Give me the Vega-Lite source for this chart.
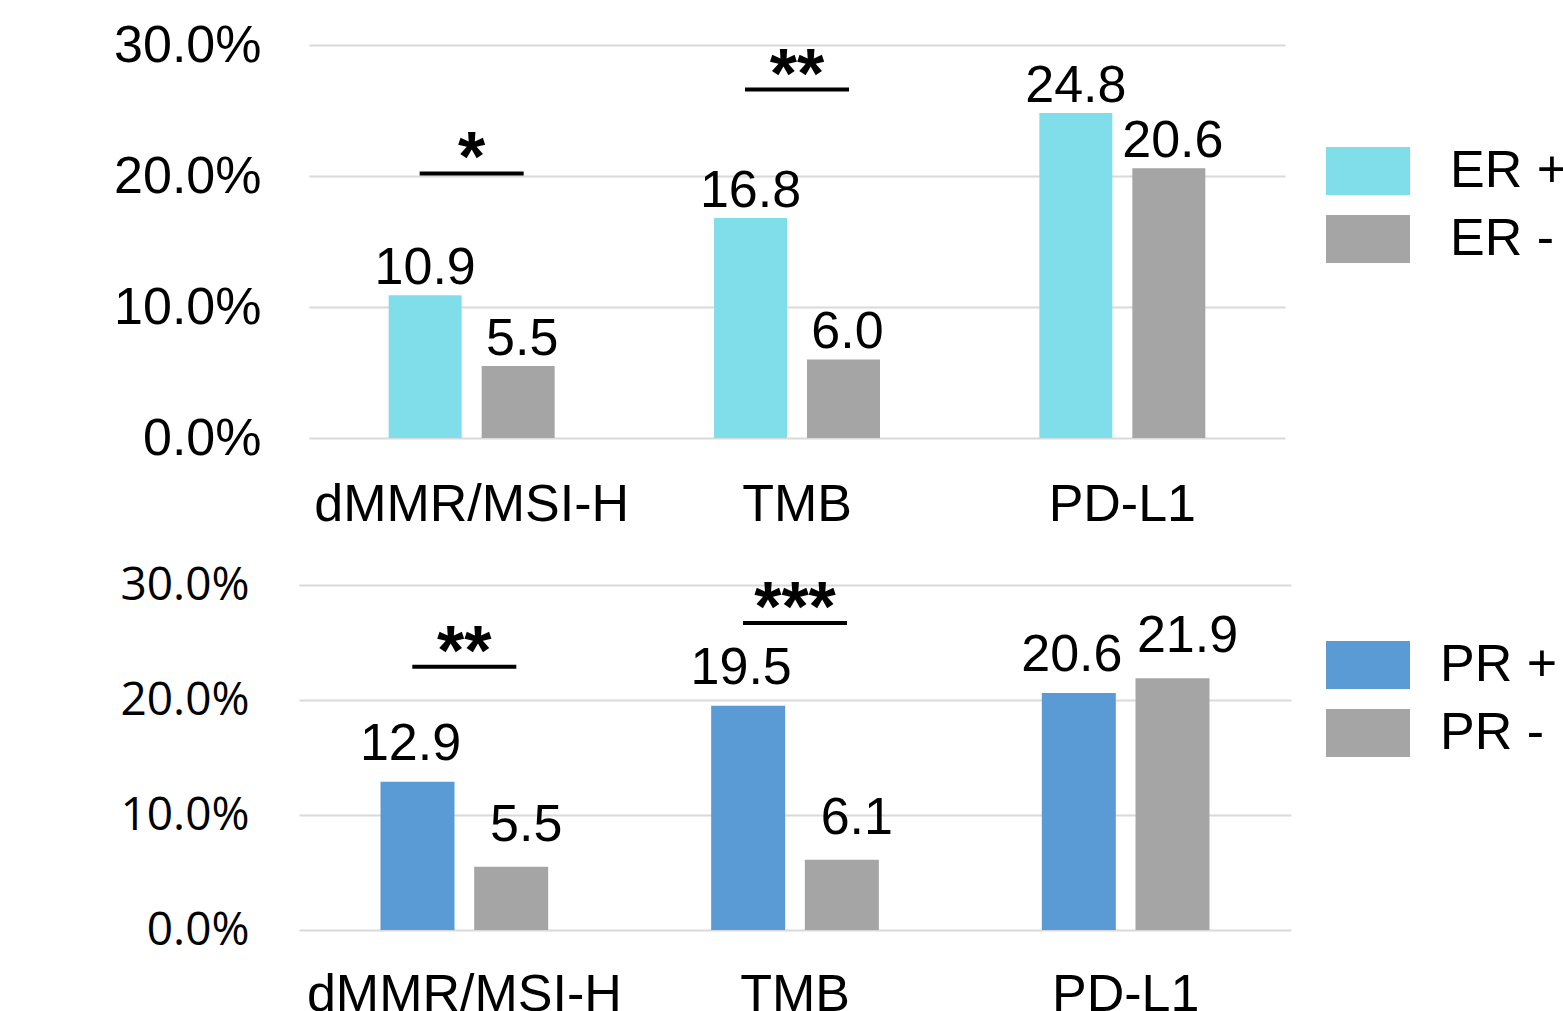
{
  "$schema": "https://vega.github.io/schema/vega-lite/v6.json",
  "background": "white",
  "padding": {"left": 113, "top": 19, "right": 0, "bottom": 0},
  "config": {
    "view": {"stroke": null},
    "font": "Liberation Sans",
    "axis": {"domain": false, "ticks": false, "tickSize": 0, "title": null, "labelColor": "black", "gridColor": "#D9D9D9", "gridWidth": 2, "labelLimit": 0},
    "text": {"font": "Liberation Sans", "color": "black"}
  },
  "datasets": {
    "er": [
      {"marker": "dMMR/MSI-H", "group": "ER +", "value": 10.9},
      {"marker": "dMMR/MSI-H", "group": "ER -", "value": 5.5},
      {"marker": "TMB", "group": "ER +", "value": 16.8},
      {"marker": "TMB", "group": "ER -", "value": 6.0},
      {"marker": "PD-L1", "group": "ER +", "value": 24.8},
      {"marker": "PD-L1", "group": "ER -", "value": 20.6}
    ],
    "er_sig": [
      {"marker": "dMMR/MSI-H", "y": 20.2, "stars": "*"},
      {"marker": "TMB", "y": 26.6, "stars": "**"}
    ],
    "pr": [
      {"marker": "dMMR/MSI-H", "group": "PR +", "value": 12.9},
      {"marker": "dMMR/MSI-H", "group": "PR -", "value": 5.5},
      {"marker": "TMB", "group": "PR +", "value": 19.5},
      {"marker": "TMB", "group": "PR -", "value": 6.1},
      {"marker": "PD-L1", "group": "PR +", "value": 20.6},
      {"marker": "PD-L1", "group": "PR -", "value": 21.9}
    ],
    "pr_sig": [
      {"marker": "dMMR/MSI-H", "y": 22.9, "stars": "**"},
      {"marker": "TMB", "y": 26.7, "stars": "***"}
    ]
  },
  "bounds": "flush",
  "spacing": 147,
  "resolve": {"scale": {"color": "independent", "xOffset": "independent", "x": "independent", "y": "independent"}},
  "vconcat": [
    {
      "width": 986,
      "height": 393,
      "layer": [
        {
          "data": {"name": "er"},
          "mark": {"type": "bar"},
          "encoding": {
            "x": {"field": "marker", "type": "nominal", "sort": ["dMMR/MSI-H", "TMB", "PD-L1"],
              "scale": {"type": "band", "range": [10, 986], "paddingInner": 0, "paddingOuter": 0},
              "axis": {"labelAngle": 0, "labelFontSize": 52, "labelPadding": 82, "labelBaseline": "alphabetic", "grid": false}},
            "xOffset": {"field": "group", "type": "nominal", "sort": ["ER +", "ER -"], "scale": {"type": "band", "domain": ["ER +", "ER -"], "paddingInner": 0.215, "paddingOuter": 0.857}},
            "y": {"field": "value", "type": "quantitative", "scale": {"domain": [0, 30]},
              "axis": {"values": [0, 10, 20, 30], "labelExpr": "format(datum.value / 100, '.1%')", "labelFontSize": 52, "labelPadding": 38}},
            "color": {"field": "group", "type": "nominal", "sort": ["ER +", "ER -"],
              "scale": {"domain": ["ER +", "ER -"], "range": ["#80DEEA", "#A5A5A5"]},
              "legend": {"title": null, "orient": "none", "legendX": 1027, "legendY": 84,
                "symbolType": "M-1,-0.571H1V0.571H-1Z", "symbolSize": 7056, "symbolStrokeWidth": 0, "symbolOpacity": 1,
                "labelFontSize": 52, "labelOffset": 40, "rowPadding": -16, "labelColor": "black", "labelFont": "Liberation Sans"}}
          }
        },
        {
          "data": {"name": "er"},
          "transform": [{"filter": "datum.group === 'ER +'"}],
          "mark": {"type": "text", "fontSize": 52, "baseline": "alphabetic", "dy": -11, "dx": 0},
          "encoding": {
            "x": {"field": "marker", "type": "nominal", "sort": ["dMMR/MSI-H", "TMB", "PD-L1"]},
            "xOffset": {"field": "group", "type": "nominal"},
            "y": {"field": "value", "type": "quantitative"},
            "text": {"field": "value", "type": "quantitative", "format": ".1f"}
          }
        },
        {
          "data": {"name": "er"},
          "transform": [{"filter": "datum.group === 'ER -'"}],
          "mark": {"type": "text", "fontSize": 52, "baseline": "alphabetic", "dy": -11, "dx": 4},
          "encoding": {
            "x": {"field": "marker", "type": "nominal", "sort": ["dMMR/MSI-H", "TMB", "PD-L1"]},
            "xOffset": {"field": "group", "type": "nominal"},
            "y": {"field": "value", "type": "quantitative"},
            "text": {"field": "value", "type": "quantitative", "format": ".1f"}
          }
        },
        {
          "data": {"name": "er_sig"},
          "mark": {"type": "tick", "orient": "horizontal", "size": 104, "thickness": 4, "color": "black", "opacity": 1},
          "encoding": {
            "x": {"field": "marker", "type": "nominal", "sort": ["dMMR/MSI-H", "TMB", "PD-L1"]},
            "y": {"field": "y", "type": "quantitative"}
          }
        },
        {
          "data": {"name": "er_sig"},
          "mark": {"type": "text", "fontSize": 70, "fontWeight": "bold", "baseline": "alphabetic", "dy": 8},
          "encoding": {
            "x": {"field": "marker", "type": "nominal", "sort": ["dMMR/MSI-H", "TMB", "PD-L1"]},
            "y": {"field": "y", "type": "quantitative"},
            "text": {"field": "stars", "type": "nominal"}
          }
        }
      ]
    },
    {
      "width": 992,
      "height": 345,
      "layer": [
        {
          "data": {"name": "pr"},
          "mark": {"type": "bar"},
          "encoding": {
            "x": {"field": "marker", "type": "nominal", "sort": ["dMMR/MSI-H", "TMB", "PD-L1"],
              "scale": {"type": "band", "paddingInner": 0, "paddingOuter": 0},
              "axis": {"labelAngle": 0, "labelFontSize": 52, "labelPadding": 80, "labelBaseline": "alphabetic", "grid": false}},
            "xOffset": {"field": "group", "type": "nominal", "sort": ["PR +", "PR -"], "scale": {"type": "band", "domain": ["PR +", "PR -"], "paddingInner": 0.21, "paddingOuter": 0.87}},
            "y": {"field": "value", "type": "quantitative", "scale": {"domain": [0, 30]},
              "axis": {"values": [0, 10, 20, 30], "labelExpr": "format(datum.value / 100, '.1%')", "labelFontSize": 46, "labelFont": "Open Sans", "labelPadding": 50}},
            "color": {"field": "group", "type": "nominal", "sort": ["PR +", "PR -"],
              "scale": {"domain": ["PR +", "PR -"], "range": ["#5B9BD5", "#A5A5A5"]},
              "legend": {"title": null, "orient": "none", "legendX": 1027, "legendY": 38,
                "symbolType": "M-1,-0.571H1V0.571H-1Z", "symbolSize": 7056, "symbolStrokeWidth": 0, "symbolOpacity": 1,
                "labelFontSize": 52, "labelOffset": 30, "rowPadding": -16, "labelColor": "black", "labelFont": "Liberation Sans"}}
          }
        },
        {
          "data": {"name": "pr"},
          "transform": [{"filter": "datum.group === 'PR +'"}],
          "mark": {"type": "text", "fontSize": 52, "baseline": "alphabetic", "dy": -22, "dx": -7},
          "encoding": {
            "x": {"field": "marker", "type": "nominal", "sort": ["dMMR/MSI-H", "TMB", "PD-L1"]},
            "xOffset": {"field": "group", "type": "nominal"},
            "y": {"field": "value", "type": "quantitative"},
            "text": {"field": "value", "type": "quantitative", "format": ".1f"}
          }
        },
        {
          "data": {"name": "pr"},
          "transform": [{"filter": "datum.group === 'PR -'"}],
          "mark": {"type": "text", "fontSize": 52, "baseline": "alphabetic", "dy": -26, "dx": 15},
          "encoding": {
            "x": {"field": "marker", "type": "nominal", "sort": ["dMMR/MSI-H", "TMB", "PD-L1"]},
            "xOffset": {"field": "group", "type": "nominal"},
            "y": {"field": "value", "type": "quantitative"},
            "text": {"field": "value", "type": "quantitative", "format": ".1f"}
          }
        },
        {
          "data": {"name": "pr_sig"},
          "mark": {"type": "tick", "orient": "horizontal", "size": 104, "thickness": 4, "color": "black", "opacity": 1},
          "encoding": {
            "x": {"field": "marker", "type": "nominal", "sort": ["dMMR/MSI-H", "TMB", "PD-L1"]},
            "y": {"field": "y", "type": "quantitative"}
          }
        },
        {
          "data": {"name": "pr_sig"},
          "mark": {"type": "text", "fontSize": 70, "fontWeight": "bold", "baseline": "alphabetic", "dy": 8},
          "encoding": {
            "x": {"field": "marker", "type": "nominal", "sort": ["dMMR/MSI-H", "TMB", "PD-L1"]},
            "y": {"field": "y", "type": "quantitative"},
            "text": {"field": "stars", "type": "nominal"}
          }
        }
      ]
    }
  ]
}
